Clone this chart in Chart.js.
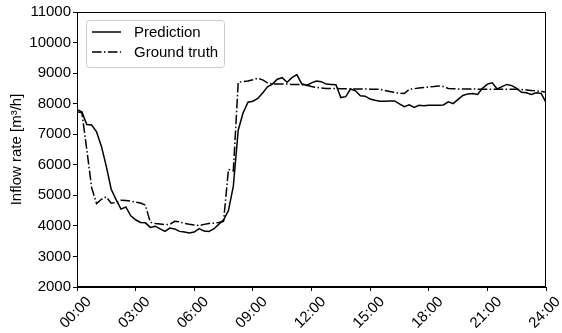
<!DOCTYPE html>
<html>
<head>
<meta charset="utf-8">
<script src="https://cdn.jsdelivr.net/npm/chart.js@4.4.0/dist/chart.umd.min.js"></script>
<style>
html, body { margin: 0; padding: 0; background: #fff; }
</style>
</head>
<body>
<canvas id="inflow-chart" width="562" height="333"></canvas>
<script>
// one sample every 15 minutes, 00:00 .. 24:00
const stepHours = 0.25;

const prediction = [
    7800, 7730, 7320, 7300, 7080, 6600, 5950, 5200, 4860, 4550, 4620, 4330,
    4200, 4110, 4100, 3950, 3990, 3900, 3820, 3930, 3900, 3820, 3800, 3770,
    3800, 3910, 3830, 3820, 3900, 4050, 4200, 4500, 5300, 7130, 7700, 8050,
    8080, 8170, 8350, 8550, 8640, 8800, 8850, 8700, 8850, 8950, 8650, 8600,
    8680, 8740, 8720, 8640, 8630, 8620, 8200, 8230, 8480, 8420, 8260, 8245,
    8150, 8110, 8080, 8080, 8090, 8090, 7990, 7900, 7960, 7880, 7950, 7930,
    7950, 7950, 7950, 7960, 8060, 8000, 8140, 8270, 8320, 8330, 8300, 8500,
    8640, 8680, 8480, 8560, 8630, 8590, 8500, 8370, 8355, 8300, 8355, 8335,
    8040
];

const groundTruth = [
    7730, 7710, 6500, 5250, 4730, 4870, 4950, 4740, 4770, 4840, 4830, 4810,
    4780, 4750, 4680, 4120, 4080, 4060, 4040, 4050, 4150, 4130, 4080, 4050,
    4030, 4010, 4050, 4080, 4090, 4110, 4150, 5850, 5800, 8700, 8720, 8740,
    8780, 8830, 8780, 8680, 8650, 8640, 8640, 8640, 8630, 8630, 8620, 8600,
    8560, 8530, 8510, 8500, 8500, 8500, 8490, 8490, 8480, 8480, 8480, 8480,
    8475, 8475, 8470, 8430, 8400, 8370, 8340, 8330, 8470, 8490, 8510, 8530,
    8550, 8560, 8580, 8560, 8500, 8490, 8480, 8480, 8480, 8480, 8475, 8475,
    8475, 8475, 8475, 8475, 8475, 8470, 8470, 8460, 8450, 8430, 8420, 8400,
    8385
];

const xTickHours = [0, 3, 6, 9, 12, 15, 18, 21, 24];
const yTickValues = [2000, 3000, 4000, 5000, 6000, 7000, 8000, 9000, 10000, 11000];

const fontName = "'Liberation Sans', Arial, sans-serif";

function toPoints(values) {
    return values.map((v, i) => ({ x: i * stepHours, y: v }));
}

function hourLabel(h) {
    return String(h).padStart(2, '0') + ':00';
}

// box round the plot + legend inside the plot
const framePlugin = {
    id: 'frame',
    afterDraw(chart) {
        const ctx = chart.ctx;
        const a = chart.chartArea;
        ctx.save();
        ctx.strokeStyle = '#000';
        ctx.lineWidth = 1;
        ctx.strokeRect(a.left + 0.5, a.top + 0.5, a.right - a.left - 1, a.bottom - a.top - 1);

        // legend
        const bx = a.left + 9, by = a.top + 8;
        ctx.beginPath();
        ctx.roundRect(bx + 0.5, by + 0.5, 138, 47, 3);
        ctx.fillStyle = 'rgba(255,255,255,0.8)';
        ctx.fill();
        ctx.strokeStyle = '#cccccc';
        ctx.stroke();

        const items = [
            { text: 'Prediction', dash: [] },
            { text: 'Ground truth', dash: [9.6, 2.4, 1.5, 2.4] }
        ];
        items.forEach((item, i) => {
            const y = by + 12 + i * 20;
            ctx.beginPath();
            ctx.setLineDash(item.dash);
            ctx.strokeStyle = '#000';
            ctx.lineWidth = 1.5;
            ctx.moveTo(bx + 6, y);
            ctx.lineTo(bx + 35, y);
            ctx.stroke();
            ctx.setLineDash([]);
            ctx.fillStyle = '#000';
            ctx.font = '15px ' + fontName;
            ctx.textBaseline = 'middle';
            ctx.fillText(item.text, bx + 48, y + 1);
        });
        ctx.restore();
    }
};

let ctx = document.getElementById('inflow-chart').getContext('2d');

let inflowChart = new Chart(ctx, {
    type: 'line',
    data: {
        datasets: [{
            label: 'Prediction',
            data: toPoints(prediction),
            borderColor: '#000',
            borderWidth: 1.5,
            pointRadius: 0,
            tension: 0,
            fill: false
        }, {
            label: 'Ground truth',
            data: toPoints(groundTruth),
            borderColor: '#000',
            borderWidth: 1.5,
            borderDash: [9.6, 2.4, 1.5, 2.4],
            pointRadius: 0,
            tension: 0,
            fill: false
        }]
    },
    options: {
        responsive: false,
        animation: false,
        layout: {
            padding: { top: 12, right: 16, left: 0, bottom: 0 }
        },
        plugins: {
            legend: { display: false },
            tooltip: { enabled: false }
        },
        scales: {
            x: {
                type: 'linear',
                min: 0,
                max: 24,
                afterBuildTicks: (scale) => {
                    scale.ticks = xTickHours.map(h => ({ value: h }));
                },
                afterFit: (scale) => { scale.height = 46; },
                grid: { drawOnChartArea: false, drawTicks: true, tickLength: 4, color: '#000' },
                border: { display: true, color: '#000', width: 1 },
                ticks: {
                    color: '#000',
                    font: { family: fontName, size: 15 },
                    maxRotation: 45,
                    minRotation: 45,
                    padding: 2,
                    labelOffset: 12,
                    callback: (v) => hourLabel(v)
                }
            },
            y: {
                min: 2000,
                max: 11000,
                afterBuildTicks: (scale) => {
                    scale.ticks = yTickValues.map(v => ({ value: v }));
                },
                afterFit: (scale) => { scale.width = 77; },
                grid: { drawOnChartArea: false, drawTicks: true, tickLength: 4, color: '#000' },
                border: { display: true, color: '#000', width: 1 },
                ticks: {
                    color: '#000',
                    font: { family: fontName, size: 15 },
                    padding: 2,
                    callback: (v) => String(v)
                },
                title: {
                    display: true,
                    text: 'Inflow rate [m³/h]',
                    color: '#000',
                    font: { family: fontName, size: 15 },
                    padding: { top: 8, bottom: 0 }
                }
            }
        }
    },
    plugins: [framePlugin]
});
</script>
</body>
</html>
